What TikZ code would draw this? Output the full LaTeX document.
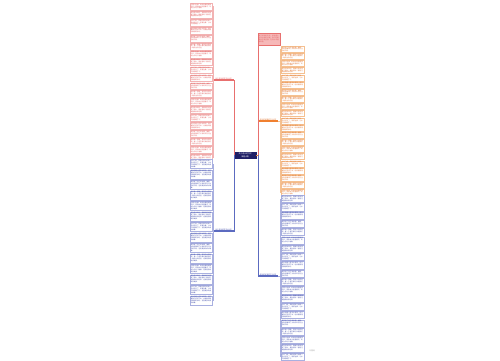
\documentclass[tikz,border=0pt]{standalone}
\usepackage{fontspec}
\usepackage{xcolor}
\usepackage{tikz}
\usetikzlibrary{positioning,calc}
\newfontfamily\cjk{Noto Sans CJK SC}
\XeTeXlinebreaklocale "zh"
\XeTeXlinebreakskip=0pt plus 0.5pt
\definecolor{rootnavy}{HTML}{1F1F66}
\definecolor{redline}{HTML}{E8706F}
\definecolor{redtext}{HTML}{E05A5A}
\definecolor{redborder}{HTML}{F2B3B3}
\definecolor{pinkfill}{HTML}{F6B8B8}
\definecolor{blueline}{HTML}{5C6BC0}
\definecolor{bluetext}{HTML}{3F4BA8}
\definecolor{blueborder}{HTML}{A9B0E0}
\definecolor{orangeline}{HTML}{F08030}
\definecolor{orangetext}{HTML}{E0702A}
\definecolor{orangeborder}{HTML}{F5C090}
\newcommand{\mapsample}[1]{\ifcase#1
成长是一首歌，有欢乐也有忧伤，每一个音符都记录着我们一路走过的足迹。\or
记得小时候，妈妈总是牵着我的手，带我去公园里看花，听树上的鸟儿唱歌。\or
那次考试失利，我躲在房间里哭了很久，是爸爸的一番话让我重新振作起来。\or
时光飞逝，转眼间我已经是一名中学生了，回首往事，心中不禁感慨万千。\or
成长的路上有风也有雨，但只要我们坚持下去，总会看到雨后美丽的彩虹。\or
我学会了自己洗衣服、做饭，也渐渐懂得了父母的辛苦与生活的不易。\fi}
\newcommand{\mapextra}{这就是我的成长故事。}
\tikzset{
  mapitem/.style={rectangle, draw, line width=0.3pt, fill=white, align=left, text width=20.6pt, inner xsep=0.6pt, inner ysep=0.4pt, font=\cjk\fontsize{1.55}{1.85}\selectfont},
  reditem/.style={mapitem, draw=redborder, text=redtext, minimum height=6.8pt},
  blueitem/.style={mapitem, draw=blueborder, text=bluetext, minimum height=9.3pt, font=\cjk\fontsize{1.55}{2}\selectfont},
  orangeitem/.style={mapitem, draw=orangeborder, text=orangetext, text width=21.6pt, minimum height=6pt, font=\cjk\fontsize{1.55}{1.7}\selectfont},
  bluritem/.style={mapitem, draw=blueborder, text=bluetext, text width=21.6pt, minimum height=7.2pt, font=\cjk\fontsize{1.55}{2}\selectfont},
  rootnode/.style={rectangle, fill=rootnavy, draw=rootnavy, text=white, align=center, minimum width=22pt, minimum height=6pt, inner sep=0.4pt, font=\cjk\fontsize{1.9}{2.2}\selectfont},
  branchlbl/.style={inner sep=0.3pt, minimum width=21pt, anchor=south west, font=\cjk\fontsize{1.7}{2}\selectfont},
  maplink/.style={line width=0.5pt},
  underlink/.style={line width=1.2pt}
}
\begin{document}
\begin{tikzpicture}[x=1pt,y=-1pt]
\useasboundingbox (0,0) rectangle (500,360);
% centre
\node[rootnode, anchor=north west] (root) at (234,152) {关于成长的作文\\（精选4篇）};
% branch labels
\node[branchlbl, text=redtext] (lblA) at (213,80) {关于成长的作文600字};
\node[branchlbl, text=bluetext] (lblB) at (213,231) {关于成长的作文800字};
\node[branchlbl, text=orangetext, minimum width=20pt] (lblC) at (258,121) {成长的烦恼作文500字};
\node[branchlbl, text=bluetext, minimum width=20pt] (lblD) at (258,276) {成长的足迹作文700字};
\node[rectangle, draw=redline, fill=pinkfill, text=redtext, line width=0.3pt, anchor=north west, text width=20.6pt, minimum height=12pt, inner xsep=0.6pt, inner ysep=0.4pt, align=left, font=\cjk\fontsize{1.6}{2.1}\selectfont] (pink) at (258,33) {关于成长的作文：成长是人生中必经的过程，我们在跌倒中学会坚强，在泪水中懂得珍惜。};
\foreach \l/\c in {lblA/redline, lblB/blueline, lblC/orangeline, lblD/blueline}
  \draw[underlink, draw=\c] (\l.south west) -- (\l.south east);
% left columns
\node[reditem, anchor=north west] (lr1) at (190,3) {\mapsample{1}};
\foreach \i [evaluate=\i as \j using int(\i-1)] in {2,...,20} {
  \pgfmathtruncatemacro\k{mod(\i,6)}
  \node[reditem, below=0.85pt of lr\j] (lr\i) {\mapsample{\k}};
}
\node[blueitem, anchor=north west] (lb1) at (190,159) {\mapsample{3}\mapextra};
\foreach \i [evaluate=\i as \j using int(\i-1)] in {2,...,14} {
  \pgfmathtruncatemacro\k{mod(\i+2,6)}
  \node[blueitem, below=0.9pt of lb\j] (lb\i) {\mapsample{\k}\mapextra};
}
% right columns
\node[orangeitem, anchor=north west] (ro1) at (281,46) {\mapsample{5}};
\foreach \i [evaluate=\i as \j using int(\i-1)] in {2,...,21} {
  \pgfmathtruncatemacro\k{mod(\i+4,6)}
  \node[orangeitem, below=0.86pt of ro\j] (ro\i) {\mapsample{\k}};
}
\node[bluritem, anchor=north west] (rb1) at (281,195) {\mapsample{2}};
\foreach \i [evaluate=\i as \j using int(\i-1)] in {2,...,20} {
  \pgfmathtruncatemacro\k{mod(\i+1,6)}
  \node[bluritem, below=0.8pt of rb\j] (rb\i) {\mapsample{\k}};
}
% links
\draw[maplink, redline] (root.west) |- (lblA.south east);
\draw[maplink, blueline] (root.west) |- (lblB.south east);
\coordinate (rj) at ([xshift=2pt]root.east);
\draw[maplink, orangeline] (root.east) -- (rj) |- (lblC.south west);
\draw[maplink, blueline] (rj) |- (lblD.south west);
\draw[maplink, redline] (rj) |- (pink.south west);
\foreach \i in {1,...,20}
  \draw[maplink, redborder] (lblA.south west) |- (lr\i.east);
\foreach \i in {1,...,14}
  \draw[maplink, blueborder] (lblB.south west) |- (lb\i.east);
\coordinate (cj) at ([xshift=1.5pt]lblC.south east);
\foreach \i in {1,...,21}
  \draw[maplink, orangeborder] (lblC.south east) -- (cj) |- (ro\i.west);
\coordinate (dj) at ([xshift=1.5pt]lblD.south east);
\foreach \i in {1,...,20}
  \draw[maplink, blueborder] (lblD.south east) -- (dj) |- (rb\i.west);
\node[font=\cjk\fontsize{1.8}{2}\selectfont, text=gray!70, anchor=west] (mark) at (306,351) {树图网};
\end{tikzpicture}
\end{document}
